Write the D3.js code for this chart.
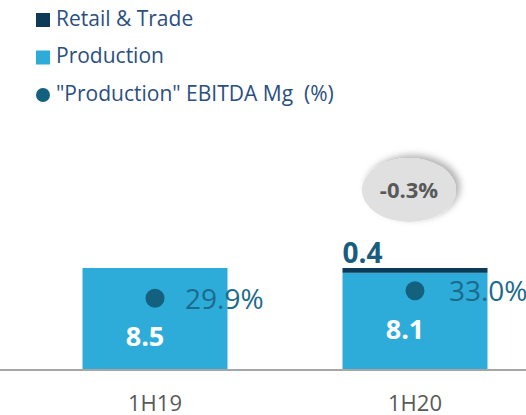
<!DOCTYPE html>
<html>
<head>
<meta charset="utf-8">
<script src="https://cdn.jsdelivr.net/npm/d3@7"></script>
<style>
  body { margin: 0; background: #fff; }
  text { font-family: "Open Sans", "Noto Sans", sans-serif; }
</style>
</head>
<body>
<svg id="chart" width="526" height="415"></svg>
<script>
// data
var periods = ["1H19", "1H20"];
var production = [8.5, 8.1];
var retail = [0, 0.4];
var ebitdaMg = [29.9, 33.0];
var deltaLabel = "-0.3%";
var legendItems = ["Retail & Trade", "Production", "\"Production\" EBITDA Mg  (%)"];

var cProd = "#2eacd9", cRetail = "#0d3a56", cDot = "#14607f";

var svg = d3.select("#chart");

// shadow for the bubble
var defs = svg.append("defs");
defs.append("filter")
  .attr("id", "shadow")
  .attr("x", "-30%").attr("y", "-30%").attr("width", "160%").attr("height", "160%")
  .append("feDropShadow")
  .attr("dx", 4).attr("dy", -3)
  .attr("stdDeviation", 3.5)
  .attr("flood-color", "#000").attr("flood-opacity", 0.3);

var baseY = 370;

var x = d3.scaleBand()
  .domain(periods)
  .range([25, 545])
  .paddingInner(0.4423)
  .paddingOuter(0.2212);

var y = d3.scaleLinear().domain([0, 10]).range([baseY, baseY - 120]);
var yPct = d3.scaleLinear().domain([0, 40]).range([baseY, baseY - 96]);

// bars
svg.selectAll(".prod")
  .data(periods)
  .enter()
  .append("rect")
  .attr("class", "prod")
  .attr("x", (d) => x(d))
  .attr("width", x.bandwidth())
  .attr("y", (d, i) => y(production[i]))
  .attr("height", (d, i) => baseY - y(production[i]))
  .attr("fill", cProd);

svg.selectAll(".retail")
  .data(periods)
  .enter()
  .append("rect")
  .attr("class", "retail")
  .attr("x", (d) => x(d))
  .attr("width", x.bandwidth())
  .attr("y", (d, i) => y(production[i] + retail[i]))
  .attr("height", (d, i) => y(production[i]) - y(production[i] + retail[i]))
  .attr("fill", cRetail);

// axis line
svg.append("line")
  .attr("x1", 0).attr("x2", 526)
  .attr("y1", baseY).attr("y2", baseY)
  .attr("stroke", "#a6a6a6")
  .attr("stroke-width", 2);

// category labels (bottom is cut by the frame, as in the original)
svg.selectAll(".cat")
  .data(periods)
  .enter()
  .append("text")
  .attr("x", (d) => x(d) + x.bandwidth() / 2)
  .attr("y", 411)
  .attr("text-anchor", "middle")
  .style("font-size", "22px")
  .style("fill", "#595959")
  .text((d) => d);

// production values inside bars
svg.selectAll(".prodLabel")
  .data(periods)
  .enter()
  .append("text")
  .attr("x", (d) => x(d) + x.bandwidth() / 2 - 10)
  .attr("y", (d, i) => yPct(ebitdaMg[i]) + 48)
  .attr("text-anchor", "middle")
  .style("font-size", "27px")
  .style("font-weight", "bold")
  .style("fill", "#fff")
  .text((d, i) => production[i].toFixed(1));

// retail label
svg.selectAll(".retailLabel")
  .data(periods.filter((d, i) => retail[i] > 0))
  .enter()
  .append("text")
  .attr("x", (d) => x(d))
  .attr("y", (d) => y(production[periods.indexOf(d)] + retail[periods.indexOf(d)]) - 5)
  .style("font-size", "28px")
  .style("font-weight", "bold")
  .style("fill", "#1a5c7e")
  .text((d) => retail[periods.indexOf(d)].toFixed(1));

// EBITDA margin dots
svg.selectAll(".dot")
  .data(periods)
  .enter()
  .append("circle")
  .attr("cx", (d) => x(d) + x.bandwidth() / 2)
  .attr("cy", (d, i) => yPct(ebitdaMg[i]))
  .attr("r", 9.5)
  .attr("fill", cDot);

svg.selectAll(".pctLabel")
  .data(periods)
  .enter()
  .append("text")
  .attr("x", (d, i) => x(d) + x.bandwidth() / 2 + 30 + i * 4)
  .attr("y", (d, i) => yPct(ebitdaMg[i]) + 3)
  .attr("dominant-baseline", "middle")
  .style("font-size", "28px")
  .style("fill", "#1c6a8c")
  .text((d, i) => ebitdaMg[i].toFixed(1) + "%");

// change bubble
var bx = x(periods[1]) + x.bandwidth() / 2 - 6;
svg.append("ellipse")
  .attr("cx", bx).attr("cy", 190)
  .attr("rx", 47).attr("ry", 32)
  .attr("fill", "#e0e0e0")
  .attr("filter", "url(#shadow)");
svg.append("text")
  .attr("x", bx).attr("y", 192)
  .attr("text-anchor", "middle")
  .attr("dominant-baseline", "middle")
  .style("font-size", "22px")
  .style("font-weight", "bold")
  .style("fill", "#595959")
  .text(deltaLabel);

// legend
var legend = svg.selectAll("g.legend")
  .data(legendItems)
  .enter()
  .append("g")
  .attr("class", "legend")
  .attr("transform", (d, i) => `translate(0,${20 + i * 37.5})`);

legend.filter((d, i) => i < 2)
  .append("rect")
  .attr("x", 36).attr("y", -7)
  .attr("width", 14).attr("height", 14)
  .attr("fill", (d, i) => (i == 0 ? cRetail : cProd));

legend.filter((d, i) => i == 2)
  .append("circle")
  .attr("cx", 43).attr("cy", 0)
  .attr("r", 7)
  .attr("fill", cDot);

legend.append("text")
  .attr("x", 56)
  .attr("y", 0)
  .attr("dominant-baseline", "middle")
  .style("white-space", "pre")
  .style("font-size", "21px")
  .style("fill", "#2b4f80")
  .text((d) => d);
</script>
</body>
</html>
